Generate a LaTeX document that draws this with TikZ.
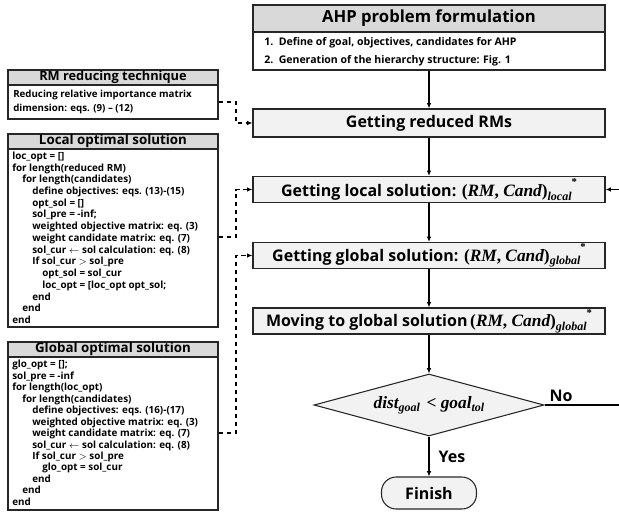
\documentclass[tikz,border=0pt]{standalone}
\usepackage{fontspec}
\setmainfont{Open Sans}
\newfontfamily\mserif{Liberation Serif}
\usetikzlibrary{shapes.geometric,arrows.meta}
\definecolor{hdrgray}{HTML}{D9D9D9}
\definecolor{procgray}{HTML}{F2F2F2}
\definecolor{edge}{HTML}{262626}
\newcommand{\pu}{0.75pt}
\newcommand{\ind}{\hspace*{7.5pt}}
% bold-italic serif "math" pieces
\newcommand{\mvar}[1]{{\mserif\bfseries\itshape #1}}
\newcommand{\msub}[1]{\raisebox{-0.45ex}{\mserif\bfseries\itshape\fontsize{9}{10}\selectfont #1}}
\newcommand{\mstar}{\raisebox{1.2ex}{\mserif\fontsize{8}{9}\selectfont *}}
\newcommand{\rmcand}[1]{{\fontsize{13}{15}\selectfont\mserif\bfseries(\mvar{RM}, \mvar{Cand})}\msub{#1}\mstar}
\begin{document}
\begin{tikzpicture}[x=0.75pt,y=-0.75pt,
  every node/.style={font=\bfseries},
  hdr/.style={draw=edge,fill=hdrgray,line width=0.9pt,inner sep=0pt},
  body/.style={draw=edge,fill=white,line width=0.9pt,inner sep=0pt},
  proc/.style={draw=edge,fill=procgray,line width=0.9pt,inner sep=0pt,
    minimum width=352*\pu,font=\bfseries\fontsize{12}{14}\selectfont},
  flow/.style={draw=black,line width=0.8pt,-{Latex[length=4pt,width=3.5pt]}},
  dflow/.style={draw=black,line width=0.8pt,dash pattern=on 3.5pt off 2.5pt,-{Latex[length=4pt,width=3.5pt]}},
  code/.style={align=left,anchor=north west,inner sep=0pt,font=\bfseries\fontsize{7.4}{8.8}\selectfont},
  lhdr/.style={hdr,minimum width=210*\pu,minimum height=15*\pu,font=\bfseries\fontsize{10}{12}\selectfont},
  lbl/.style={font=\bfseries\fontsize{12}{14}\selectfont,inner sep=0pt}]
\useasboundingbox (0,0) rectangle (619,512);

% ---- main column ----
\node[hdr,minimum width=352*\pu,minimum height=27*\pu,font=\bfseries\fontsize{12.5}{15}\selectfont] (ahph) at (429,18.5) {AHP problem formulation};
\node[body,minimum width=352*\pu,minimum height=38*\pu] (ahpb) at (429,51) {};
\node[anchor=west,inner sep=0pt,font=\bfseries\fontsize{7.9}{9}\selectfont] (it1) at (264,42.5) {1.\ \ Define of goal, objectives, candidates for AHP};
\node[anchor=west,inner sep=0pt,font=\bfseries\fontsize{7.9}{9}\selectfont] (it2) at (264,60.5) {2.\ \ Generation of the hierarchy structure: Fig. 1};

\node[proc,minimum height=28*\pu] (red) at (429,123) {Getting reduced RMs};
\node[proc,minimum height=26*\pu] (loc) at (429,189.5) {Getting local solution: \rmcand{local}};
\node[proc,minimum height=26*\pu] (glo) at (429,255.5) {Getting global solution: \rmcand{global}};
\node[proc,minimum height=26*\pu] (mov) at (429,321) {Moving to global solution\,\rmcand{global}};
\node[diamond,aspect=3.7,draw=edge,fill=procgray,line width=0.8pt,inner sep=0pt,minimum width=230*\pu,minimum height=62*\pu] (dia) at (429,405) {{\fontsize{13}{15}\selectfont\mvar{dist}}\msub{goal}\,{\fontsize{13}{15}\selectfont\mserif\ <\ \mvar{goal}}\msub{tol}};
\node[draw=edge,fill=procgray,line width=0.8pt,rounded corners=11pt,minimum width=95*\pu,minimum height=32*\pu,inner sep=0pt,font=\bfseries\fontsize{12}{14}\selectfont] (fin) at (429,493) {Finish};

\draw[flow] (ahpb) -- (red);
\draw[flow] (red) -- (loc);
\draw[flow] (loc) -- (glo);
\draw[flow] (glo) -- (mov);
\draw[flow] (mov) -- (dia);
\draw[flow] (dia) -- (fin);
\node[lbl] (yes) at (452,457) {Yes};
\coordinate (nr) at (640,405);
\coordinate (nu) at (640,189.5);
\draw[flow] (dia.east) -- (nr) -- (nu) -- (loc.east);
\node[lbl] (no) at (561,396) {No};

% ---- left boxes ----
\node[lhdr,font=\bfseries\fontsize{9.6}{11}\selectfont] (rmh) at (113,77.5) {RM reducing technique};
\node[body,minimum width=210*\pu,minimum height=34*\pu] (rmb) at (113,102) {};
\node[code,font=\bfseries\fontsize{7.3}{10.5}\selectfont] (rmt) at (13,89.5) {Reducing relative importance matrix\\dimension: eqs. (9) -- (12)};

\node[lhdr] (loch) at (113,141.5) {Local optimal solution};
\node[body,minimum width=210*\pu,minimum height=178*\pu] (locb) at (113,238) {};
\node[code] (loct) at (12,151.5) {loc\_opt = []\\
for length(reduced RM)\\
\ind for length(candidates)\\
\ind\ind define objectives: eqs. (13)-(15)\\
\ind\ind opt\_sol = []\\
\ind\ind sol\_pre = -inf;\\
\ind\ind weighted objective matrix: eq. (3)\\
\ind\ind weight candidate matrix: eq. (7)\\
\ind\ind sol\_cur $\leftarrow$ sol calculation: eq. (8)\\
\ind\ind If sol\_cur $>$ sol\_pre\\
\ind\ind\ind opt\_sol = sol\_cur\\
\ind\ind\ind loc\_opt = [loc\_opt opt\_sol;\\
\ind\ind end\\
\ind end\\
end};

\node[lhdr] (gloh) at (113,349.5) {Global optimal solution};
\node[body,minimum width=210*\pu,minimum height=153*\pu] (globb) at (113,433.5) {};
\node[code,font=\bfseries\fontsize{7.4}{8.6}\selectfont] (glot) at (12,360) {glo\_opt = [];\\
sol\_pre = -inf\\
for length(loc\_opt)\\
\ind for length(candidates)\\
\ind\ind define objectives: eqs. (16)-(17)\\
\ind\ind weighted objective matrix: eq. (3)\\
\ind\ind weight candidate matrix: eq. (7)\\
\ind\ind sol\_cur $\leftarrow$ sol calculation: eq. (8)\\
\ind\ind If sol\_cur $>$ sol\_pre\\
\ind\ind\ind glo\_opt = sol\_cur\\
\ind\ind end\\
\ind end\\
end};

% ---- dashed connectors ----
\coordinate (c1a) at (236,102);
\coordinate (c1b) at (236,123);
\draw[dflow] (rmb.east |- c1a) -- (c1a) -- (c1b) -- (red.west);
\coordinate (c2a) at (236,237);
\coordinate (c2b) at (236,189.5);
\draw[dflow] (locb.east |- c2a) -- (c2a) -- (c2b) -- (loc.west);
\coordinate (c3a) at (236,433);
\coordinate (c3b) at (236,255.5);
\draw[dflow] (globb.east |- c3a) -- (c3a) -- (c3b) -- (glo.west);
\end{tikzpicture}
\end{document}
